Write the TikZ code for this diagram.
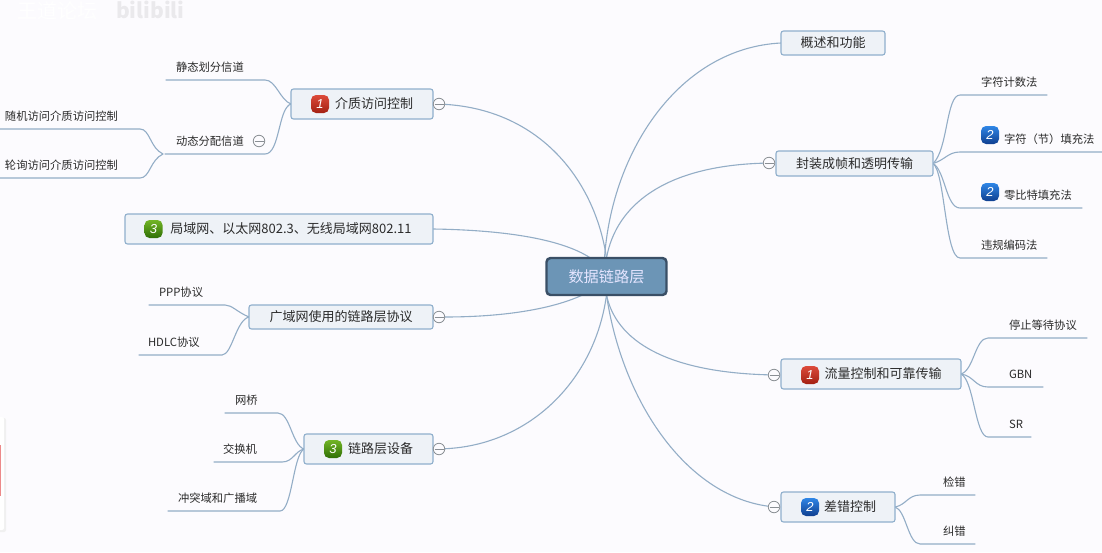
\documentclass[tikz,border=0pt]{standalone}
\usepackage{fontspec}
\setmainfont{Noto Sans CJK SC}
\newfontfamily\badgefont{Liberation Sans Italic}
\usetikzlibrary{backgrounds}
\definecolor{bgc}{HTML}{FCFBFE}
\definecolor{linec}{HTML}{93ADC6}
\definecolor{boxf}{HTML}{EEF2F7}
\definecolor{boxd}{HTML}{8FAFCC}
\definecolor{txt}{HTML}{2B2B2B}
\definecolor{minusc}{HTML}{8A8F94}
\definecolor{centerf}{HTML}{6C95B6}
\definecolor{centerd}{HTML}{3A4F66}
\definecolor{redt}{HTML}{DC4A3A}
\definecolor{redb}{HTML}{A32012}
\definecolor{bluet}{HTML}{2F86E6}
\definecolor{blueb}{HTML}{0F3F90}
\definecolor{greent}{HTML}{72B526}
\definecolor{greenb}{HTML}{2F6F05}
\tikzset{
  x=1pt,y=-1pt,
  every node/.style={inner sep=0pt,outer sep=0pt},
  conn/.style={draw=linec,line width=1.1pt,line cap=round},
  branch/.style={draw=boxd,fill=boxf,line width=1.1pt,rounded corners=2.5pt,text=txt,font=\fontsize{13}{15}\selectfont,anchor=north west},
  central/.style={draw=centerd,fill=centerf,line width=2.4pt,rounded corners=4pt,text=white!90!blue,font=\fontsize{15.2}{17}\selectfont},
  leaf/.style={text=txt,font=\fontsize{11.3}{13}\selectfont,anchor=base west},
  minus/.style={circle,draw=minusc,fill=bgc,line width=.8pt,minimum size=11.5pt,
    path picture={\draw[minusc,line width=.9pt] ([xshift=-4.5pt]path picture bounding box.center) -- ([xshift=4.5pt]path picture bounding box.center);}},
  badge/.style={rounded corners=5pt,minimum size=18pt,text=white,font=\fontsize{13}{13}\badgefont},
  bred/.style={badge,top color=redt,bottom color=redb},
  bblue/.style={badge,top color=bluet,bottom color=blueb},
  bgreen/.style={badge,top color=greent,bottom color=greenb},
}
\newcommand{\mmleaf}[6]{% name, x1, x2, y, textx, text
  \coordinate (#1a) at (#2,#4);
  \coordinate (#1b) at (#3,#4);
  \node[leaf] (#1) at (#5,#4-8.5) {#6};
}
\begin{document}
\begin{tikzpicture}
\useasboundingbox (0,0) rectangle (1102,552);

% central node
\node[central,minimum width=120pt,minimum height=37pt] (c) at (606.5,276.5) {数据链路层};

% branches
\node[branch,minimum width=104pt,minimum height=24pt] (b1) at (781,31) {概述和功能};
\node[branch,minimum width=157pt,minimum height=25pt] (b2) at (776,151) {封装成帧和透明传输};
\node[branch,minimum width=180pt,minimum height=30pt] (b3) at (781,359) {\hspace{24pt}流量控制和可靠传输};
\node[branch,minimum width=114pt,minimum height=30pt] (b4) at (781,492) {\hspace{24pt}差错控制};
\node[branch,minimum width=142pt,minimum height=30pt] (b5) at (291,89) {\hspace{24pt}介质访问控制};
\node[branch,minimum width=308pt,minimum height=30pt] (b6) at (125,214) {\hspace{24pt}局域网、以太网802.3、无线局域网802.11};
\node[branch,minimum width=184pt,minimum height=24pt] (b7) at (249,305) {广域网使用的链路层协议};
\node[branch,minimum width=129pt,minimum height=30pt] (b8) at (304,434) {\hspace{24pt}链路层设备};

% badges
\node[bred] (i3) at (810,375) {1};
\node[bblue] (i4) at (810,507) {2};
\node[bred] (i5) at (320,104) {1};
\node[bgreen] (i6) at (153.5,229) {3};
\node[bgreen] (i8) at (333,449) {3};

% collapse marks
\node[minus] (m2) at (769,163) {};
\node[minus] (m3) at (774,375) {};
\node[minus] (m4) at (774,507) {};
\node[minus] (m5) at (439,104) {};
\node[minus] (m7) at (439,317) {};
\node[minus] (m8) at (439,449) {};
\node[minus] (m9) at (259,141) {};

% leaves
\mmleaf{l1}{166}{265}{80}{176}{静态划分信道}
\mmleaf{l2}{165}{265}{154}{176}{动态分配信道}
\mmleaf{l3}{0}{140}{129}{5}{随机访问介质访问控制}
\mmleaf{l4}{0}{140}{178}{5}{轮询访问介质访问控制}
\mmleaf{l5}{149}{225}{305}{159}{PPP协议}
\mmleaf{l6}{139}{222}{355}{148}{HDLC协议}
\mmleaf{l7}{225}{278}{413}{235}{网桥}
\mmleaf{l8}{214}{282}{462}{223}{交换机}
\mmleaf{l9}{168}{280}{511}{178}{冲突域和广播域}
\mmleaf{r1}{1047}{960}{95}{981}{字符计数法}
\mmleaf{r2}{1102}{960}{152}{1004}{字符（节）填充法}
\mmleaf{r3}{1082}{960}{208}{1004}{零比特填充法}
\mmleaf{r4}{1047}{960}{258}{981}{违规编码法}
\mmleaf{r5}{1087}{988}{338}{1009}{停止等待协议}
\mmleaf{r6}{1043}{988}{387}{1009}{GBN}
\mmleaf{r7}{1031}{988}{437}{1009}{SR}
\mmleaf{r8}{975}{920}{495}{943}{检错}
\mmleaf{r9}{975}{920}{544}{943}{纠错}
\node[bblue] (i9) at (990,135) {2};
\node[bblue] (i10) at (990,192) {2};
\coordinate (hubl) at (163,154);

% connectors and page ground
\begin{scope}[on background layer]
\fill[bgc] (0,0) rectangle (1102,552);
\node[text=white,font=\fontsize{20}{20}\selectfont,anchor=west] (wm) at (17,11) {王道论坛};
\node[text=black!7!bgc,font=\fontsize{21}{21}\selectfont\bfseries,anchor=west] (bili) at (116,10) {bilibili};
\fill[black!6,rounded corners=2pt] (-6,418) rectangle (6,532);
\fill[white,rounded corners=2pt] (-6,417) rectangle (4,530);
\fill[red!45!white!85!gray] (0,445) rectangle (1,496);

\draw[conn] ([xshift=-2pt]c.north) .. controls (612,150) and (680,48) .. (b1.west);
\draw[conn] (c.north) .. controls (616,205) and (665,166) .. (m2);
\draw[conn] (c.south) .. controls (616,340) and (665,372) .. (m3);
\draw[conn] (c.south) .. controls (622,400) and (685,495) .. (m4);
\draw[conn] (c.north) .. controls (595,180) and (540,110) .. (m5);
\draw[conn] ([xshift=-16pt]c.north) .. controls (560,238) and (500,230) .. (b6.east);
\draw[conn] ([xshift=-24pt]c.south) .. controls (550,310) and (500,317) .. (m7);
\draw[conn] (c.south) .. controls (595,380) and (530,445) .. (m8);

\draw[conn] (b5.west) .. controls (280,100) and (276,80) .. (l1b) -- (l1a);
\draw[conn] (b5.west) .. controls (278,108) and (280,154) .. (l2b) -- (l2a);
\draw[conn] (hubl) .. controls (150,148) and (150,129) .. (l3b) -- (l3a);
\draw[conn] (hubl) .. controls (150,160) and (150,178) .. (l4b) -- (l4a);
\draw[conn] (b7.west) .. controls (237,312) and (232,305) .. (l5b) -- (l5a);
\draw[conn] (b7.west) .. controls (236,320) and (232,355) .. (l6b) -- (l6a);
\draw[conn] (b8.west) .. controls (292,445) and (290,413) .. (l7b) -- (l7a);
\draw[conn] (b8.west) .. controls (295,451) and (293,462) .. (l8b) -- (l8a);
\draw[conn] (b8.west) .. controls (293,455) and (292,511) .. (l9b) -- (l9a);
\draw[conn] (b2.east) .. controls (948,150) and (946,95) .. (r1b) -- (r1a);
\draw[conn] (b2.east) .. controls (945,160) and (948,152) .. (r2b) -- (r2a);
\draw[conn] (b2.east) .. controls (945,170) and (946,208) .. (r3b) -- (r3a);
\draw[conn] (b2.east) .. controls (945,172) and (945,258) .. (r4b) -- (r4a);
\draw[conn] (b3.east) .. controls (974,370) and (975,338) .. (r5b) -- (r5a);
\draw[conn] (b3.east) .. controls (974,376) and (975,387) .. (r6b) -- (r6a);
\draw[conn] (b3.east) .. controls (974,380) and (975,437) .. (r7b) -- (r7a);
\draw[conn] (b4.east) .. controls (906,505) and (908,495) .. (r8b) -- (r8a);
\draw[conn] (b4.east) .. controls (906,510) and (908,544) .. (r9b) -- (r9a);
\end{scope}
\end{tikzpicture}
\end{document}
